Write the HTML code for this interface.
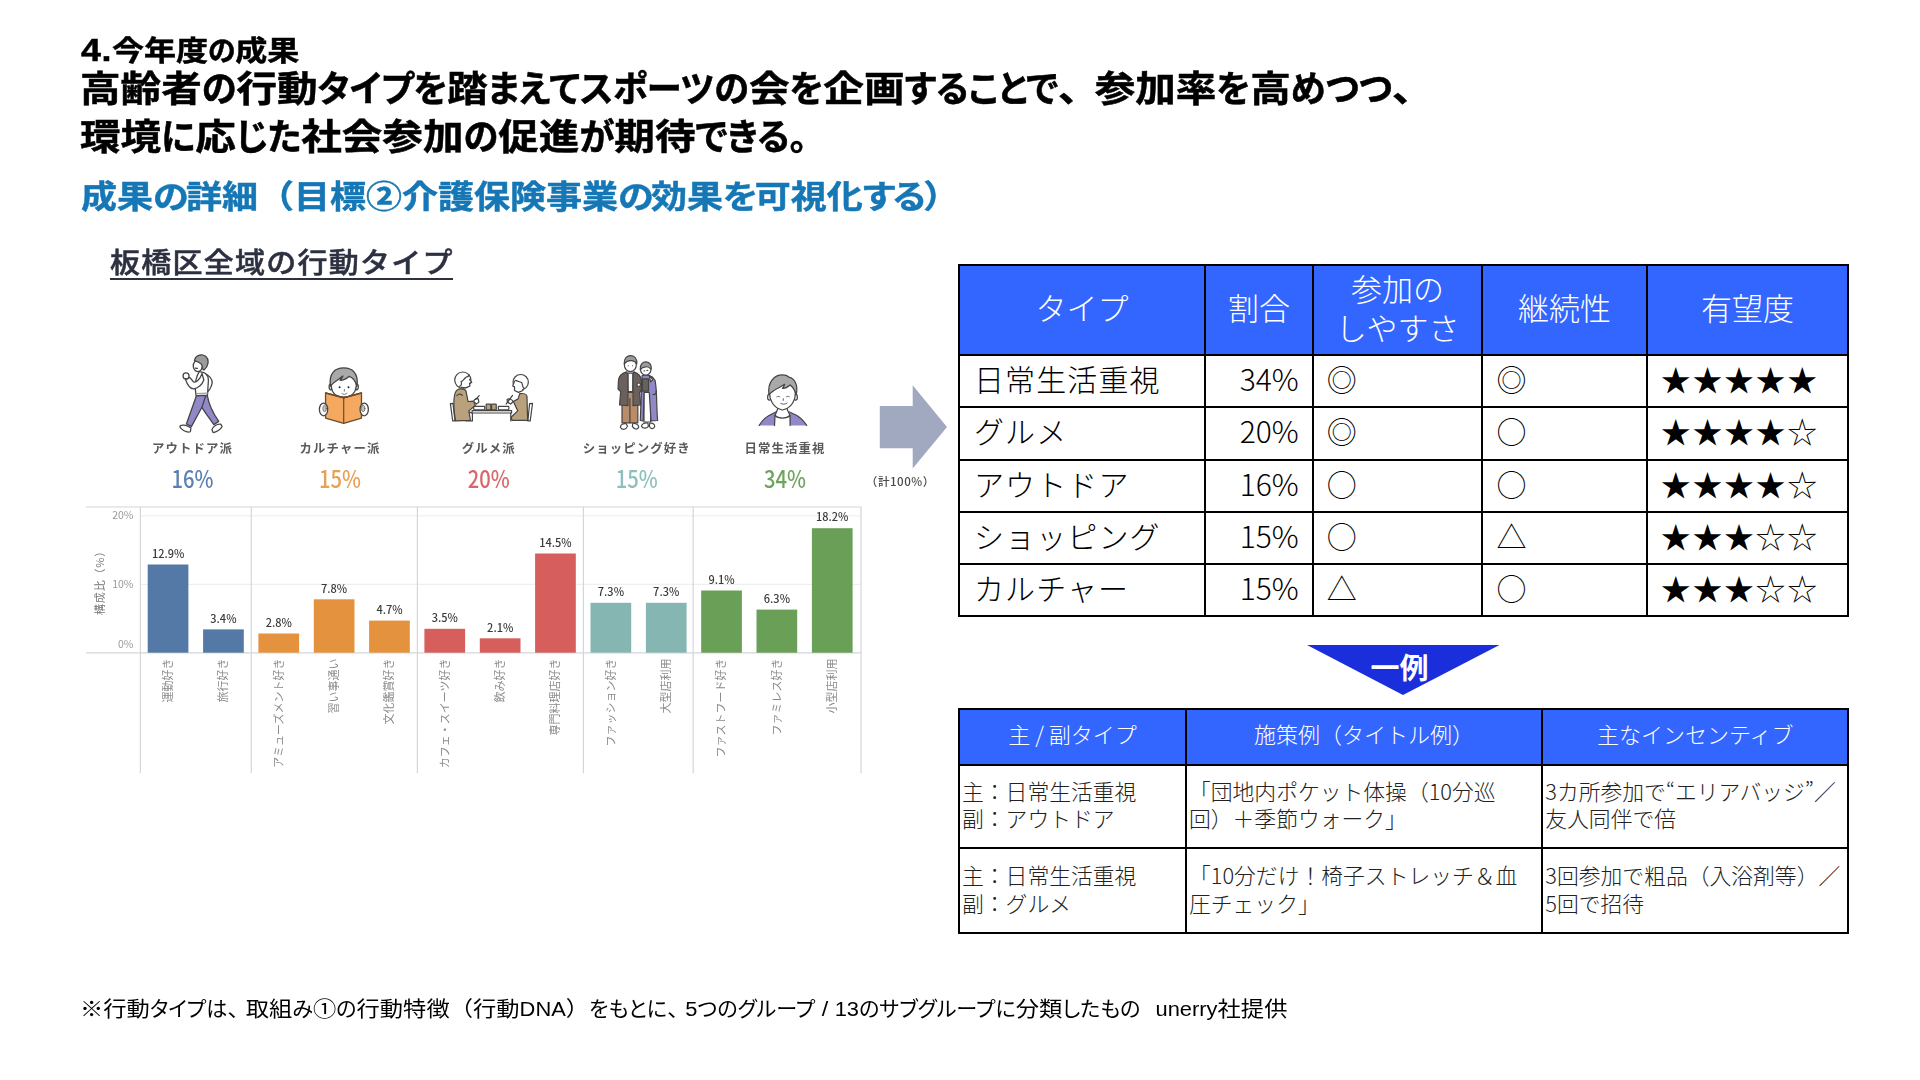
<!DOCTYPE html>
<html lang="ja">
<head>
<meta charset="utf-8">
<title>4.今年度の成果</title>
<style>
html,body{margin:0;padding:0;background:#fff;}
body{width:1920px;height:1080px;overflow:hidden;position:relative;font-family:"Liberation Sans","Noto Sans CJK JP",sans-serif;color:#000;}
.abs{position:absolute;white-space:nowrap;transform-origin:0 0;}
.hd{font-weight:700;line-height:1;font-feature-settings:"palt";-webkit-text-stroke:0.55px #000;transform:scaleY(.89);}
.k{display:inline-block;font-size:.866em;transform:scaleY(1.155);transform-origin:0 84.6%;}
.pc{font-feature-settings:normal;letter-spacing:-4px;}
.k2{letter-spacing:-2.6px;}
.n4{font-size:1.12em;letter-spacing:.5px;}
.np{font-feature-settings:normal;}
#h0{left:81px;top:34.5px;font-size:32px;}
#t1{left:80px;top:71.5px;font-size:40.6px;}
#t2{left:80px;top:119.5px;font-size:40.6px;}
#sub{left:81px;top:180.5px;font-size:36px;color:#1577b5;-webkit-text-stroke-color:#1577b5;}
#ct{left:110px;top:250px;font-size:30px;color:#2d3040;font-weight:500;-webkit-text-stroke:.5px #2d3040;letter-spacing:1.25px;line-height:1;transform:scaleY(.93);}
#ctu{left:109.5px;top:278px;width:343.5px;height:1.7px;background:#2d3040;}
/* tables */
.tbl{position:absolute;border-collapse:collapse;table-layout:fixed;font-family:"Noto Sans CJK JP","Liberation Sans",sans-serif;font-weight:300;}
.tbl td,.tbl th{border:2px solid #000;padding:0;box-sizing:border-box;overflow:hidden;}
.tbl th{background:#3366ff;color:#fff;font-weight:300;}
#tb1{left:958px;top:264px;width:891.25px;font-size:30px;}
#tb1 th{height:90px;line-height:39px;font-size:31px;padding-bottom:7px;}
#tb1 td{line-height:1;padding-bottom:6px;}
#tb2{left:958px;top:708px;width:891.25px;font-size:21.8px;color:#222;}
#tb2 th{height:56px;font-size:22px;padding-bottom:8px;}
#tb2 td{line-height:27.8px;vertical-align:top;}

#tb1 tbody tr{height:52.25px;}
#tb1 .c1{padding-left:14px;letter-spacing:1.1px;}
#tb1 .c2{text-align:right;padding-right:13px;}
#tb1 .c3{padding-left:13px;}
#tb1 .c5{padding-left:13px;letter-spacing:1.6px;}
#tb2 td{padding:10.7px 0 0 2px;}
#tb2 .r2 td{padding-top:11.5px;}
#tb2 .r1{height:83.25px;}
#tb2 .r2{height:85px;}
#foot{left:80px;top:998.5px;font-size:23.3px;line-height:1;font-feature-settings:"palt";transform:scaleY(.9);}
.pc3{font-feature-settings:normal;letter-spacing:-5px;}
.l{font-size:.94em;}
.gap{display:inline-block;width:15px;}
.k3{display:inline-block;font-size:.905em;transform:scaleY(1.105);transform-origin:0 84.6%;}
</style>
</head>
<body>
<div id="h0" class="abs hd"><span class="n4">4.</span>今年度<span class="k">の</span>成果</div>
<div id="t1" class="abs hd">高齢者<span class="k">の</span>行動<span class="k">タイプを</span>踏<span class="k">まえてスポーツの</span>会<span class="k">を</span>企画<span class="k">することで</span><span class="pc">、</span>参加率<span class="k">を</span>高<span class="k">めつつ</span><span class="pc">、</span></div>
<div id="t2" class="abs hd">環境<span class="k">に</span>応<span class="k">じた</span>社会参加<span class="k">の</span>促進<span class="k">が</span>期待<span class="k">できる。</span></div>
<div id="sub" class="abs hd">成果<span class="k2">の</span>詳細<span class="np">（</span>目標②介護保険事業<span class="k2">の</span>効果<span class="k2">を</span>可視化<span class="k2">する</span><span class="np">）</span></div>
<div id="ct" class="abs">板橋区全域の行動タイプ</div>
<div id="ctu" class="abs"></div>

<svg id="chart" class="abs" style="left:60px;top:330px;filter:blur(.35px)" width="900" height="470" viewBox="60 330 900 470">
<g stroke="#ececec" stroke-width="1"><line x1="140.4" y1="515.9" x2="861" y2="515.9"/><line x1="140.4" y1="584.3" x2="861" y2="584.3"/></g>
<g stroke="#d4d6da" stroke-width="1.2"><line x1="86" y1="507" x2="861.6" y2="507"/><line x1="86" y1="652.9" x2="861.6" y2="652.9"/>
<line x1="140.4" y1="507" x2="140.4" y2="773.3"/>
<line x1="251.3" y1="507" x2="251.3" y2="773.3"/>
<line x1="417.4" y1="507" x2="417.4" y2="773.3"/>
<line x1="583.4" y1="507" x2="583.4" y2="773.3"/>
<line x1="693.2" y1="507" x2="693.2" y2="773.3"/>
<line x1="861" y1="507" x2="861" y2="773.3"/>
</g>
<g font-family="'Noto Sans CJK JP','Liberation Sans',sans-serif" font-size="10.5" fill="#9a9a9a" text-anchor="end"><text x="133.5" y="519">20%</text><text x="133.5" y="588">10%</text><text x="133.5" y="648">0%</text></g>
<text font-family="'Noto Sans CJK JP','Liberation Sans',sans-serif" font-size="11" fill="#777" text-anchor="middle" transform="translate(104,580) rotate(-90)" letter-spacing="0.8">構成比（%）</text>
<rect x="147.7" y="564.5" width="40.7" height="88.2" fill="#5479a7"/>
<text font-family="'Noto Sans CJK JP','Liberation Sans',sans-serif" font-size="11" font-weight="500" fill="#3a3a3a" text-anchor="middle" x="168.1" y="557.7">12.9%</text>
<text font-family="'Noto Sans CJK JP','Liberation Sans',sans-serif" font-size="11" fill="#8a8a8a" text-anchor="end" transform="translate(171.9,658.5) rotate(-90)">運動好き</text>
<rect x="203.1" y="629.4" width="40.7" height="23.3" fill="#5479a7"/>
<text font-family="'Noto Sans CJK JP','Liberation Sans',sans-serif" font-size="11" font-weight="500" fill="#3a3a3a" text-anchor="middle" x="223.4" y="622.6">3.4%</text>
<text font-family="'Noto Sans CJK JP','Liberation Sans',sans-serif" font-size="11" fill="#8a8a8a" text-anchor="end" transform="translate(227.2,658.5) rotate(-90)">旅行好き</text>
<rect x="258.4" y="633.5" width="40.7" height="19.2" fill="#e5923f"/>
<text font-family="'Noto Sans CJK JP','Liberation Sans',sans-serif" font-size="11" font-weight="500" fill="#3a3a3a" text-anchor="middle" x="278.8" y="626.7">2.8%</text>
<text font-family="'Noto Sans CJK JP','Liberation Sans',sans-serif" font-size="11" fill="#8a8a8a" text-anchor="end" transform="translate(282.6,658.5) rotate(-90)">アミューズメント好き</text>
<rect x="313.8" y="599.3" width="40.7" height="53.4" fill="#e5923f"/>
<text font-family="'Noto Sans CJK JP','Liberation Sans',sans-serif" font-size="11" font-weight="500" fill="#3a3a3a" text-anchor="middle" x="334.1" y="592.5">7.8%</text>
<text font-family="'Noto Sans CJK JP','Liberation Sans',sans-serif" font-size="11" fill="#8a8a8a" text-anchor="end" transform="translate(337.9,658.5) rotate(-90)">習い事通い</text>
<rect x="369.1" y="620.6" width="40.7" height="32.1" fill="#e5923f"/>
<text font-family="'Noto Sans CJK JP','Liberation Sans',sans-serif" font-size="11" font-weight="500" fill="#3a3a3a" text-anchor="middle" x="389.5" y="613.8">4.7%</text>
<text font-family="'Noto Sans CJK JP','Liberation Sans',sans-serif" font-size="11" fill="#8a8a8a" text-anchor="end" transform="translate(393.3,658.5) rotate(-90)">文化鑑賞好き</text>
<rect x="424.4" y="628.8" width="40.7" height="23.9" fill="#d65e5c"/>
<text font-family="'Noto Sans CJK JP','Liberation Sans',sans-serif" font-size="11" font-weight="500" fill="#3a3a3a" text-anchor="middle" x="444.8" y="622.0">3.5%</text>
<text font-family="'Noto Sans CJK JP','Liberation Sans',sans-serif" font-size="11" fill="#8a8a8a" text-anchor="end" transform="translate(448.6,658.5) rotate(-90)">カフェ・スイーツ好き</text>
<rect x="479.8" y="638.3" width="40.7" height="14.4" fill="#d65e5c"/>
<text font-family="'Noto Sans CJK JP','Liberation Sans',sans-serif" font-size="11" font-weight="500" fill="#3a3a3a" text-anchor="middle" x="500.2" y="631.5">2.1%</text>
<text font-family="'Noto Sans CJK JP','Liberation Sans',sans-serif" font-size="11" fill="#8a8a8a" text-anchor="end" transform="translate(504.0,658.5) rotate(-90)">飲み好き</text>
<rect x="535.1" y="553.5" width="40.7" height="99.2" fill="#d65e5c"/>
<text font-family="'Noto Sans CJK JP','Liberation Sans',sans-serif" font-size="11" font-weight="500" fill="#3a3a3a" text-anchor="middle" x="555.5" y="546.7">14.5%</text>
<text font-family="'Noto Sans CJK JP','Liberation Sans',sans-serif" font-size="11" fill="#8a8a8a" text-anchor="end" transform="translate(559.3,658.5) rotate(-90)">専門料理店好き</text>
<rect x="590.5" y="602.8" width="40.7" height="49.9" fill="#86b6b2"/>
<text font-family="'Noto Sans CJK JP','Liberation Sans',sans-serif" font-size="11" font-weight="500" fill="#3a3a3a" text-anchor="middle" x="610.9" y="596.0">7.3%</text>
<text font-family="'Noto Sans CJK JP','Liberation Sans',sans-serif" font-size="11" fill="#8a8a8a" text-anchor="end" transform="translate(614.6,658.5) rotate(-90)">ファッション好き</text>
<rect x="645.9" y="602.8" width="40.7" height="49.9" fill="#86b6b2"/>
<text font-family="'Noto Sans CJK JP','Liberation Sans',sans-serif" font-size="11" font-weight="500" fill="#3a3a3a" text-anchor="middle" x="666.2" y="596.0">7.3%</text>
<text font-family="'Noto Sans CJK JP','Liberation Sans',sans-serif" font-size="11" fill="#8a8a8a" text-anchor="end" transform="translate(670.0,658.5) rotate(-90)">大型店利用</text>
<rect x="701.2" y="590.5" width="40.7" height="62.2" fill="#6a9f58"/>
<text font-family="'Noto Sans CJK JP','Liberation Sans',sans-serif" font-size="11" font-weight="500" fill="#3a3a3a" text-anchor="middle" x="721.5" y="583.7">9.1%</text>
<text font-family="'Noto Sans CJK JP','Liberation Sans',sans-serif" font-size="11" fill="#8a8a8a" text-anchor="end" transform="translate(725.3,658.5) rotate(-90)">ファストフード好き</text>
<rect x="756.5" y="609.6" width="40.7" height="43.1" fill="#6a9f58"/>
<text font-family="'Noto Sans CJK JP','Liberation Sans',sans-serif" font-size="11" font-weight="500" fill="#3a3a3a" text-anchor="middle" x="776.9" y="602.8">6.3%</text>
<text font-family="'Noto Sans CJK JP','Liberation Sans',sans-serif" font-size="11" fill="#8a8a8a" text-anchor="end" transform="translate(780.7,658.5) rotate(-90)">ファミレス好き</text>
<rect x="811.9" y="528.2" width="40.7" height="124.5" fill="#6a9f58"/>
<text font-family="'Noto Sans CJK JP','Liberation Sans',sans-serif" font-size="11" font-weight="500" fill="#3a3a3a" text-anchor="middle" x="832.2" y="521.4">18.2%</text>
<text font-family="'Noto Sans CJK JP','Liberation Sans',sans-serif" font-size="11" fill="#8a8a8a" text-anchor="end" transform="translate(836.0,658.5) rotate(-90)">小型店利用</text>
<text font-family="'Noto Sans CJK JP','Liberation Sans',sans-serif" font-size="12.4" font-weight="700" fill="#5a5a5a" text-anchor="middle" letter-spacing="1.1" x="192.5" y="452.6">アウトドア派</text>
<text font-family="'Noto Sans CJK JP','Liberation Sans',sans-serif" font-size="23.5" font-weight="500" fill="#5b7fb0" text-anchor="middle" transform="translate(192.5,488.2) scale(.86,1)">16%</text>
<text font-family="'Noto Sans CJK JP','Liberation Sans',sans-serif" font-size="12.4" font-weight="700" fill="#5a5a5a" text-anchor="middle" letter-spacing="1.1" x="340" y="452.6">カルチャー派</text>
<text font-family="'Noto Sans CJK JP','Liberation Sans',sans-serif" font-size="23.5" font-weight="500" fill="#e8a055" text-anchor="middle" transform="translate(340,488.2) scale(.86,1)">15%</text>
<text font-family="'Noto Sans CJK JP','Liberation Sans',sans-serif" font-size="12.4" font-weight="700" fill="#5a5a5a" text-anchor="middle" letter-spacing="1.1" x="488.75" y="452.6">グルメ派</text>
<text font-family="'Noto Sans CJK JP','Liberation Sans',sans-serif" font-size="23.5" font-weight="500" fill="#d9666b" text-anchor="middle" transform="translate(488.75,488.2) scale(.86,1)">20%</text>
<text font-family="'Noto Sans CJK JP','Liberation Sans',sans-serif" font-size="12.4" font-weight="700" fill="#5a5a5a" text-anchor="middle" letter-spacing="1.1" x="636.8" y="452.6">ショッピング好き</text>
<text font-family="'Noto Sans CJK JP','Liberation Sans',sans-serif" font-size="23.5" font-weight="500" fill="#8dc0bc" text-anchor="middle" transform="translate(636.8,488.2) scale(.86,1)">15%</text>
<text font-family="'Noto Sans CJK JP','Liberation Sans',sans-serif" font-size="12.4" font-weight="700" fill="#5a5a5a" text-anchor="middle" letter-spacing="1.1" x="785" y="452.6">日常生活重視</text>
<text font-family="'Noto Sans CJK JP','Liberation Sans',sans-serif" font-size="23.5" font-weight="500" fill="#6da35d" text-anchor="middle" transform="translate(785,488.2) scale(.86,1)">34%</text>
<polygon points="879.8,406 912.7,406 912.7,385.2 947,426.9 912.7,468.5 912.7,448.3 879.8,448.3" fill="#a1a9c1"/>
<text font-family="'Noto Sans CJK JP','Liberation Sans',sans-serif" font-size="11.6" font-weight="500" fill="#4a4a4a" text-anchor="middle" letter-spacing="0.5" x="900.3" y="486.3">（計100%）</text>
<g transform="translate(160,345) scale(0.08798)" stroke="#444" stroke-linejoin="round" stroke-linecap="round" stroke-width="14.5" fill="#fff">
<path d="M540,340 C590,375 605,425 582,470 C572,498 556,518 540,530"/>
<path d="M430,590 L538,575 C560,700 620,800 668,868 L612,905 C560,830 500,750 470,700 Z" fill="#9188c9"/>
<path d="M415,575 L520,575 L478,705 L358,925 L300,898 Z" fill="#9188c9"/>
<path d="M445,305 C500,300 548,330 550,400 L540,570 L410,575 L400,490 C395,430 420,340 445,305 Z"/>
<path d="M412,552 L540,547" stroke="#999" stroke-width="12"/>
<path d="M478,322 C455,395 405,435 380,418 L338,368 L290,392 C312,455 348,500 385,498 C440,488 480,445 498,398 Z"/>
<circle cx="296" cy="352" r="34"/>
<ellipse cx="430" cy="238" rx="52" ry="64"/>
<path d="M392,178 C398,118 472,92 522,130 C562,168 552,242 500,284 L476,268 C492,232 470,200 392,178 Z" fill="#9b9b9b"/>
<path d="M400,262 L425,266" fill="none"/>
<path d="M225,930 C230,905 282,908 322,925 L352,942 L345,986 C300,1000 240,962 225,930 Z"/>
<path d="M590,962 C600,930 652,890 690,900 L706,926 C690,962 640,990 604,996 Z"/>
</g>
<g transform="translate(300,355) scale(0.07407)" stroke="#444" stroke-linejoin="round" stroke-linecap="round" stroke-width="17.5" fill="#fff">
<ellipse cx="415" cy="430" rx="22" ry="40"/><ellipse cx="765" cy="430" rx="22" ry="40"/>
<path d="M420,420 C400,250 480,185 590,185 C700,185 780,250 760,420 C750,520 680,570 590,570 C500,570 430,520 420,420 Z"/>
<path d="M412,420 C385,250 470,175 590,175 C710,175 795,250 768,420 C745,340 700,300 660,290 C620,330 560,345 540,340 C560,320 575,300 580,285 C520,330 450,370 412,420 Z" fill="#a9a9a9"/>
<circle cx="535" cy="435" r="13" fill="#222" stroke="none"/><circle cx="655" cy="435" r="13" fill="#222" stroke="none"/>
<path d="M600,465 L598,490" fill="none" stroke-width="9"/><path d="M565,520 C585,535 615,535 635,518" fill="none" stroke-width="9"/>
<path d="M345,512 L590,578 L830,512 L830,852 L590,922 L345,852 Z" fill="#f4a860" stroke="#6b4a2a"/>
<path d="M590,578 L590,922" stroke="#6b4a2a" stroke-width="16"/>
<path d="M345,512 L590,578 L830,512" fill="none" stroke="#6b4a2a" stroke-width="20"/>
<ellipse cx="318" cy="735" rx="56" ry="86"/><ellipse cx="867" cy="735" rx="56" ry="86"/>
<ellipse cx="332" cy="722" rx="24" ry="44" fill="#c4c4c4" stroke-width="8"/><ellipse cx="853" cy="722" rx="24" ry="44" fill="#c4c4c4" stroke-width="8"/>
</g>
<g transform="translate(440,360) scale(0.06481)" stroke="#444" stroke-linejoin="round" stroke-linecap="round" stroke-width="18.5" fill="#fff">
<path d="M160,672 L200,668 L232,940 L196,940 Z"/><path d="M1382,672 L1428,668 L1392,940 L1356,940 Z"/>
<path d="M440,800 L500,820 L500,940 L400,940 Z"/>
<path d="M290,448 C340,440 390,455 402,480 L432,640 L520,636 L545,702 L445,785 L470,932 L240,940 C215,800 205,640 225,540 C235,490 260,460 290,448 Z" fill="#b9a17c"/>
<path d="M262,548 C290,520 320,520 345,545" fill="none"/>
<circle cx="352" cy="310" r="125"/>
<path d="M300,405 C330,400 340,360 325,335 C350,330 365,300 395,270 C420,260 440,250 455,235" fill="none"/>
<path d="M455,300 L490,345 L455,360 L462,400 L400,430 L330,420" fill="#fff"/>
<path d="M520,640 C530,600 560,590 590,600 L600,650 L560,680 Z"/><path d="M548,610 L605,550" stroke="#333" stroke-width="16"/>
<path d="M1230,520 C1290,510 1335,530 1342,560 L1352,932 L1110,932 L1100,880 L1200,785 L1132,640 L1205,600 Z" fill="#b9a17c"/>
<circle cx="1245" cy="342" r="118"/>
<path d="M1300,440 C1270,420 1275,380 1262,350 C1230,340 1200,325 1160,315" fill="none"/>
<path d="M1150,330 L1122,400 L1150,415 L1150,470 L1210,500 L1280,470" fill="#fff"/>
<path d="M1130,640 C1100,600 1060,590 1035,610 L1040,650 L1090,680 Z"/><path d="M1120,545 L1020,680" stroke="#333" stroke-width="16"/>
<rect x="495" y="782" width="610" height="36"/>
<path d="M1092,820 L1092,940" fill="none"/>
<rect x="520" y="716" width="170" height="52" rx="8"/><rect x="900" y="716" width="162" height="52" rx="8"/>
<rect x="712" y="682" width="72" height="88" rx="8" fill="#b9a17c"/><rect x="796" y="682" width="72" height="88" rx="8" fill="#b9a17c"/>
</g>
<g transform="translate(600,345) scale(0.08798)" stroke="#444" stroke-linejoin="round" stroke-linecap="round" stroke-width="13.5" fill="#fff">
<path d="M232,935 C232,905 262,888 300,895 L312,925 C300,958 250,975 232,935 Z"/><path d="M372,895 C405,885 440,905 440,935 C425,970 385,955 368,925 Z"/>
<path d="M472,925 C472,895 510,880 545,888 L550,925 C530,950 490,955 472,925 Z"/><path d="M565,890 C595,880 625,900 622,930 C605,965 570,950 562,925 Z"/>
<rect x="250" y="540" width="180" height="345" fill="#b98c6a"/><path d="M340,610 L340,885" fill="none"/>
<rect x="500" y="520" width="75" height="355"/>
<path d="M478,350 C520,330 590,340 625,400 C650,500 640,700 655,858 L580,862 L560,540 L500,540 L492,862 L458,858 L470,540 Z" fill="#9188c9"/>
<rect x="482" y="385" width="70" height="140" fill="#6a615c"/>
<path d="M560,345 L600,395 L575,420 Z" fill="#fff"/>
<path d="M600,560 C625,570 640,555 640,520" fill="none"/>
<path d="M315,320 L375,320 L372,530 L318,530 Z"/>
<path d="M300,305 C250,320 215,345 210,400 L205,500 L235,530 L222,682 L318,690 L318,330 Z" fill="#6a615c"/>
<path d="M385,305 C430,320 465,345 470,400 L470,520 L450,540 L462,682 L375,690 L375,330 Z" fill="#6a615c"/>
<circle cx="440" cy="452" r="20"/>
<ellipse cx="345" cy="225" rx="68" ry="78"/>
<path d="M275,215 C270,150 310,118 350,120 C395,122 425,160 418,215 C400,185 380,175 350,178 C320,175 295,190 275,215 Z" fill="#9b9b9b"/>
<circle cx="320" cy="235" r="6" fill="#333" stroke="none"/><circle cx="370" cy="235" r="6" fill="#333" stroke="none"/>
<ellipse cx="520" cy="275" rx="60" ry="68"/>
<path d="M458,280 C450,215 490,190 525,192 C565,195 590,230 580,275 C560,250 545,245 520,248 C495,250 470,262 458,280 Z" fill="#9b9b9b"/>
<path d="M500,295 L508,293 M535,290 L543,288" fill="none"/>
</g>
<g transform="translate(745,360) scale(0.06944)" stroke="#444" stroke-linejoin="round" stroke-linecap="round" stroke-width="18" fill="#fff">
<path d="M205,942 C240,880 290,830 345,800 L445,748 L425,942 Z" fill="#9188c9" stroke="none"/>
<path d="M650,942 L640,748 L740,795 C800,830 850,880 888,942 Z" fill="#9188c9" stroke="none"/>
<path d="M205,942 C240,880 290,830 345,800 L445,748 M640,748 L740,795 C800,830 850,880 888,942" fill="none"/>
<path d="M425,942 L440,770 L470,715 L610,715 L640,770 L650,942 Z" stroke="none"/>
<path d="M470,700 L465,720 L432,800 C480,850 600,850 648,800 L612,720 L608,700" />
<path d="M425,942 L432,800 M650,942 L648,800" fill="none"/>
<ellipse cx="352" cy="535" rx="26" ry="42"/><ellipse cx="728" cy="535" rx="26" ry="42"/>
<path d="M355,480 C350,560 400,690 540,720 C680,690 730,560 725,480 C720,330 640,260 540,260 C440,260 360,330 355,480 Z"/>
<path d="M345,500 C320,320 420,215 540,215 C580,215 610,225 630,245 C700,255 770,340 738,500 C720,440 690,390 650,360 C610,395 560,410 540,408 C555,390 565,370 570,350 C500,400 400,430 345,500 Z" fill="#a9a9a9"/>
<path d="M458,530 C470,522 490,522 502,530 M594,530 C606,522 626,522 638,530" fill="none" stroke-width="11"/>
<path d="M552,560 L550,582" fill="none" stroke-width="13"/>
<path d="M515,626 C540,642 585,640 606,620" fill="none" stroke-width="12"/>
</g>
</svg>


<table id="tb1" class="tbl">
<colgroup><col style="width:246px"><col style="width:107.5px"><col style="width:169.5px"><col style="width:164.25px"><col style="width:201.25px"></colgroup>
<thead><tr><th>タイプ</th><th>割合</th><th>参加の<br>しやすさ</th><th>継続性</th><th>有望度</th></tr></thead>
<tbody>
<tr><td class="c1">日常生活重視</td><td class="c2">34%</td><td class="c3">◎</td><td class="c3">◎</td><td class="c5">★★★★★</td></tr>
<tr><td class="c1">グルメ</td><td class="c2">20%</td><td class="c3">◎</td><td class="c3">○</td><td class="c5">★★★★☆</td></tr>
<tr><td class="c1">アウトドア</td><td class="c2">16%</td><td class="c3">○</td><td class="c3">○</td><td class="c5">★★★★☆</td></tr>
<tr><td class="c1">ショッピング</td><td class="c2">15%</td><td class="c3">○</td><td class="c3">△</td><td class="c5">★★★☆☆</td></tr>
<tr><td class="c1">カルチャー</td><td class="c2">15%</td><td class="c3">△</td><td class="c3">○</td><td class="c5">★★★☆☆</td></tr>
</tbody>
</table>

<svg id="tri" class="abs" style="left:1300px;top:640px" width="210" height="60" viewBox="0 0 210 60"><polygon points="7,5 199.5,5 103,55" fill="#1a2edb"/><text x="99.5" y="39" text-anchor="middle" font-family="'Liberation Sans','Noto Sans CJK JP',sans-serif" font-weight="700" font-size="29" fill="#fff">一例</text></svg>

<table id="tb2" class="tbl">
<colgroup><col style="width:226.75px"><col style="width:356px"><col style="width:305.75px"></colgroup>
<thead><tr><th>主 / 副タイプ</th><th>施策例（タイトル例）</th><th>主なインセンティブ</th></tr></thead>
<tbody>
<tr class="r1"><td>主：日常生活重視<br>副：アウトドア</td><td>「団地内ポケット体操（10分巡<br>回）＋季節ウォーク」</td><td>3カ所参加で“エリアバッジ”／<br>友人同伴で倍</td></tr>
<tr class="r2"><td>主：日常生活重視<br>副：グルメ</td><td>「10分だけ！椅子ストレッチ＆血<br>圧チェック」</td><td>3回参加で粗品（入浴剤等）／<br>5回で招待</td></tr>
</tbody>
</table>


<div id="foot" class="abs">※行動<span class="k3">タイプは</span><span class="pc3">、</span>取組<span class="k3">み</span>①<span class="k3">の</span>行動特徴<span class="np">（</span>行動<span class="l">DNA</span><span class="np">）</span><span class="k3">をもとに</span><span class="pc3">、</span><span class="l">5</span><span class="k3">つのグループ</span> / <span class="l">13</span><span class="k3">のサブグループに</span>分類<span class="k3">したもの</span><span class="gap"></span><span class="l">unerry</span>社提供</div>
</body>
</html>
